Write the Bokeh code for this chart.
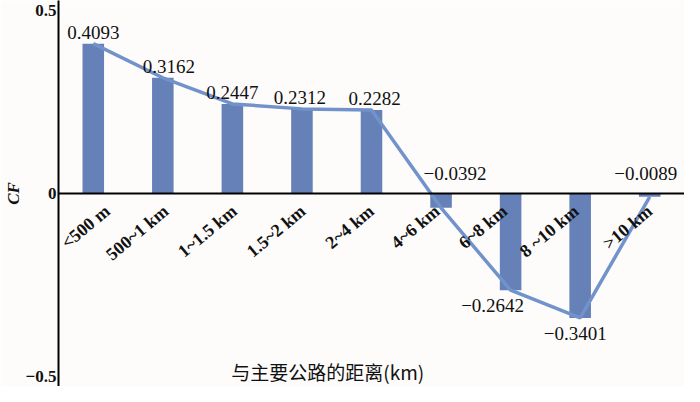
import math
from bokeh.plotting import figure
from bokeh.models import FactorRange, Range1d, Span, Label, ColumnDataSource, FixedTicker
from bokeh.core.properties import value
from bokeh.embed import file_html
from bokeh.resources import INLINE

categories = ["<500 m", "500~1 km", "1~1.5 km", "1.5~2 km", "2~4 km",
              "4~6 km", "6~8 km", "8 ~10 km", ">10 km"]
cf_values = [0.4093, 0.3162, 0.2447, 0.2312, 0.2282, -0.0392, -0.2642, -0.3401, -0.0089]
value_labels = ["0.4093", "0.3162", "0.2447", "0.2312", "0.2282",
                "\u22120.0392", "\u22120.2642", "\u22120.3401", "\u22120.0089"]
y_ticks = [-0.5, 0, 0.5]
y_tick_labels = {-0.5: "\u22120.5", 0: "0", 0.5: "0.5"}
x_title = "与主要公路的距离(km)"
y_title = "CF"

# label placement (styling, screen px)
val_anchor_zero = [False, False, False, False, False, True, False, False, True]
val_dx = [0, 6, 0, -2, 3, 14, -18, -5, -4]
cat_dx = [14, 3, 2, 1, 0, -4, -6, -4, 0]

BAR = "#6681b7"
LINE = "#7192cb"
SERIF = "Liberation Serif"
INK = "#111111"

p = figure(x_range=FactorRange(*categories, range_padding=0),
           y_range=Range1d(-0.5273, 0.5273),
           width=684, height=386, output_backend="svg", toolbar_location=None,
           x_axis_location=None, min_border_left=20, min_border_right=0,
           min_border_top=0, min_border_bottom=0)
p.outline_line_color = None
p.xgrid.grid_line_color = None
p.ygrid.grid_line_color = None
p.background_fill_color = "#fdfcfb"
p.border_fill_color = "#fdfcfb"

src = ColumnDataSource(dict(cat=categories, v=cf_values))
p.vbar(x="cat", top="v", bottom=0, width=0.31, source=src,
       fill_color=BAR, line_color=None)
p.line(x="cat", y="v", source=src, line_color=LINE, line_width=3.5)

p.add_layout(Span(location=0, dimension="width", line_color="black", line_width=2))

# value labels
pos_idx = [i for i, v in enumerate(cf_values) if v > 0]
p.text(x=[categories[i] for i in pos_idx], y=[cf_values[i] for i in pos_idx],
       text=[value_labels[i] for i in pos_idx],
       x_offset=[val_dx[i] for i in pos_idx], y_offset=-5,
       text_align="center", text_baseline="bottom",
       text_font=value(SERIF), text_font_size="19px", text_color=INK)
zero_idx = [i for i, v in enumerate(cf_values) if v <= 0 and val_anchor_zero[i]]
p.text(x=[categories[i] for i in zero_idx], y=[0 for i in zero_idx],
       text=[value_labels[i] for i in zero_idx],
       x_offset=[val_dx[i] for i in zero_idx], y_offset=-14,
       text_align="center", text_baseline="bottom",
       text_font=value(SERIF), text_font_size="19px", text_color=INK)
neg_idx = [i for i, v in enumerate(cf_values) if v <= 0 and not val_anchor_zero[i]]
p.text(x=[categories[i] for i in neg_idx], y=[cf_values[i] for i in neg_idx],
       text=[value_labels[i] for i in neg_idx],
       x_offset=[val_dx[i] for i in neg_idx], y_offset=9,
       text_align="center", text_baseline="top",
       text_font=value(SERIF), text_font_size="19px", text_color=INK)

# category labels along zero line
p.text(x=categories, y=[0] * len(categories), text=categories,
       x_offset=cat_dx, y_offset=15, angle=math.radians(40),
       text_align="right", text_baseline="middle",
       text_font=value(SERIF), text_font_size="18px", text_font_style="bold",
       text_color=INK)

# x title inside plot
p.add_layout(Label(x=3.87, y=-0.485, text=x_title, text_align="center",
                   text_baseline="middle", text_font="Noto Sans CJK SC",
                   text_font_size="19px", text_color=INK))

ax = p.yaxis[0]
ax.ticker = FixedTicker(ticks=y_ticks)
ax.major_label_overrides = y_tick_labels
ax.major_tick_line_color = None
ax.minor_tick_line_color = None
ax.major_tick_in = 0
ax.major_tick_out = 0
ax.axis_line_color = "black"
ax.axis_line_width = 2
ax.major_label_text_font = SERIF
ax.major_label_text_font_style = "bold"
ax.major_label_text_font_size = "17px"
ax.major_label_text_color = INK
ax.major_label_standoff = 2
ax.axis_label = y_title
ax.axis_label_text_font = SERIF
ax.axis_label_text_font_style = "bold italic"
ax.axis_label_text_font_size = "17px"
ax.axis_label_text_color = INK
ax.axis_label_standoff = 0

open("out.html", "w").write(file_html(p, INLINE))
